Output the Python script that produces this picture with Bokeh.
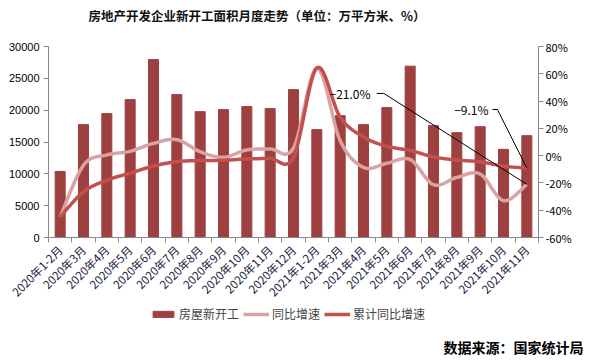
import math
from bokeh.plotting import figure
from bokeh.models import (Range1d, LinearAxis, FixedTicker, Legend, LegendItem,
                          Label, NumeralTickFormatter, PrintfTickFormatter)
from bokeh.embed import file_html
from bokeh.resources import INLINE

categories = ["2020年1-2月", "2020年3月", "2020年4月", "2020年5月", "2020年6月",
              "2020年7月", "2020年8月", "2020年9月", "2020年10月", "2020年11月",
              "2020年12月", "2021年1-2月", "2021年3月", "2021年4月", "2021年5月",
              "2021年6月", "2021年7月", "2021年8月", "2021年9月", "2021年10月",
              "2021年11月"]
new_starts = [10370, 17730, 19460, 21660, 27950, 22450, 19770, 20090, 20560, 20250,
              23230, 16940, 19140, 17730, 20400, 26910, 17570, 16470, 17410, 13850,
              16000]
yoy = [-44.9, -7.0, 0.5, 3.2, 9.0, 11.7, 2.9, -1.2, 4.2, 4.9,
       5.6, 64.3, 11.0, -8.6, -5.6, -2.9, -21.3, -15.9, -13.5, -33.0,
       -21.0]
cum_yoy = [-44.9, -26.5, -18.0, -12.8, -7.6, -4.4, -3.6, -3.4, -2.4, -2.0,
           -1.2, 64.3, 28.2, 13.7, 6.9, 3.8, -0.9, -3.2, -4.5, -7.7,
           -9.1]
left_ticks = [0, 5000, 10000, 15000, 20000, 25000, 30000]
right_ticks = [-60, -40, -20, 0, 20, 40, 60, 80]

BAR = "#9E4040"
LIGHT = "#D9A3A1"
DARK = "#C4504D"
CJK = "Noto Sans CJK SC"


def smooth(vals, steps=16):
    """Catmull-Rom rendering of a line through the data points."""
    n = len(vals)
    xs, ys = [], []
    for i in range(n - 1):
        p0 = vals[i - 1] if i > 0 else vals[i]
        p1, p2 = vals[i], vals[i + 1]
        p3 = vals[i + 2] if i + 2 < n else vals[i + 1]
        x0 = i - 1 if i > 0 else i
        x3 = i + 2 if i + 2 < n else i + 1
        for s in range(steps):
            t = s / steps
            t2, t3 = t * t, t * t * t

            def cr(a, b, c, d):
                return 0.5 * ((2 * b) + (-a + c) * t + (2 * a - 5 * b + 4 * c - d) * t2
                              + (-a + 3 * b - 3 * c + d) * t3)
            xs.append(cr(x0, i, i + 1, x3))
            ys.append(cr(p0, p1, p2, p3))
    xs.append(n - 1)
    ys.append(vals[-1])
    return xs, ys


idx = list(range(len(categories)))
n = len(categories) - 1

# layout geometry (pixels); the frame covers the whole canvas
FRAME_W = 590
FRAME_H = 356
PLOT_LEFT = 48       # left edge of category area
PLOT_W = 490         # width of category area
PLOT_TOP = 46        # top of value area
PLOT_H = 191         # height of value area
below_px = FRAME_H - PLOT_TOP - PLOT_H

lmin, lmax = left_ticks[0], left_ticks[-1]
rmin, rmax = right_ticks[0], right_ticks[-1]
lpp = (lmax - lmin) / PLOT_H
rpp = (rmax - rmin) / PLOT_H
cat_px = PLOT_W / len(categories)
x_start = -0.5 - PLOT_LEFT / cat_px
x_end = x_start + FRAME_W / cat_px

p = figure(frame_width=FRAME_W, frame_height=FRAME_H, output_backend="svg",
           toolbar_location=None,
           x_range=Range1d(x_start, x_end),
           y_range=Range1d(lmin - below_px * lpp, lmax + PLOT_TOP * lpp),
           min_border_left=0, min_border_right=0, min_border_top=0,
           min_border_bottom=0, outline_line_color=None)
p.extra_y_ranges = {"pct": Range1d(rmin - below_px * rpp, rmax + PLOT_TOP * rpp)}
p.xgrid.visible = False
p.ygrid.visible = False

bars = p.vbar(x=idx, top=new_starts, width=0.43, color=BAR)
sx, sy = smooth(yoy)
l1 = p.line(sx, sy, y_range_name="pct", line_color=LIGHT, line_width=3.5)
cx, cy = smooth(cum_yoy)
l2 = p.line(cx, cy, y_range_name="pct", line_color=DARK, line_width=3.5)

# annotations for last values
p.line([13.57, 13.87, n], [45.6, 45.6, yoy[-1]], y_range_name="pct",
       line_color="black", line_width=1)
p.line([18.53, 18.74, n], [33.8, 33.8, cum_yoy[-1]], y_range_name="pct",
       line_color="black", line_width=1)
p.add_layout(Label(x=13.3, y=45.6, y_range_name="pct", text="−%.1f%%" % abs(yoy[-1]),
                   text_align="right", text_baseline="middle", text_font=CJK,
                   text_font_size="12px", text_color="black"))
p.add_layout(Label(x=18.36, y=33.8, y_range_name="pct", text="−%.1f%%" % abs(cum_yoy[-1]),
                   text_align="right", text_baseline="middle", text_font=CJK,
                   text_font_size="12px", text_color="black"))

# axes
for ax in [p.xaxis[0], p.yaxis[0]]:
    ax.axis_line_color = "#888888"
    ax.major_tick_line_color = "#888888"
    ax.minor_tick_line_color = "#888888"
    ax.major_label_text_color = "black"
    ax.major_label_text_font_size = "11px"
    ax.major_label_text_font = "Liberation Sans"

yl = p.yaxis[0]
yl.fixed_location = -0.5
yl.ticker = FixedTicker(ticks=left_ticks)
yl.bounds = (lmin, lmax)
yl.major_tick_in = 0
yl.major_tick_out = 5
yl.minor_tick_out = 0
yl.minor_tick_in = 0
yl.formatter = NumeralTickFormatter(format="0")
yl.major_label_standoff = 4

yr = LinearAxis(y_range_name="pct", ticker=FixedTicker(ticks=right_ticks),
                formatter=PrintfTickFormatter(format="%d%%"), bounds=(rmin, rmax),
                fixed_location=n + 0.5)
yr.axis_line_color = "#888888"
yr.major_tick_line_color = "#888888"
yr.major_tick_in = 0
yr.major_tick_out = 5
yr.minor_tick_in = 0
yr.minor_tick_out = 0
yr.major_label_text_color = "black"
yr.major_label_text_font_size = "11px"
yr.major_label_text_font = CJK
yr.major_label_standoff = 2
p.add_layout(yr, "right")

xa = p.xaxis[0]
xa.fixed_location = lmin
xa.bounds = (-0.5, n + 0.5)
xa.ticker = FixedTicker(ticks=idx, minor_ticks=[i - 0.5 for i in idx] + [n + 0.5])
xa.major_label_overrides = {i: c for i, c in enumerate(categories)}
xa.major_tick_in = 0
xa.major_tick_out = 0
xa.minor_tick_in = 0
xa.minor_tick_out = 5
xa.major_label_orientation = math.pi / 4
xa.major_label_text_font = CJK
xa.major_label_text_font_size = "11.5px"
xa.major_label_text_color = "#1a1a40"
xa.major_label_standoff = 5

legend = Legend(items=[LegendItem(label="房屋新开工", renderers=[bars]),
                       LegendItem(label="同比增速", renderers=[l1]),
                       LegendItem(label="累计同比增速", renderers=[l2])],
                orientation="horizontal", location=(PLOT_LEFT + 102, 34),
                border_line_color=None, background_fill_alpha=0,
                label_text_font=CJK, label_text_font_size="12px",
                glyph_width=26, glyph_height=8, padding=0, margin=0,
                spacing=4, label_standoff=3)
p.add_layout(legend, "center")

p.add_layout(Label(x=88, y=FRAME_H - 15, x_units="screen", y_units="screen",
                   text="房地产开发企业新开工面积月度走势（单位：万平方米、%）",
                   text_font=CJK, text_font_size="12.5px", text_font_style="bold",
                   text_align="left", text_baseline="middle", text_color="#111111"))
p.add_layout(Label(x=FRAME_W - 7, y=10, x_units="screen", y_units="screen",
                   text="数据来源：国家统计局", text_font=CJK, text_font_size="14px",
                   text_font_style="bold", text_align="right", text_baseline="middle",
                   text_color="black"))

open("out.html", "w").write(file_html(p, INLINE))
